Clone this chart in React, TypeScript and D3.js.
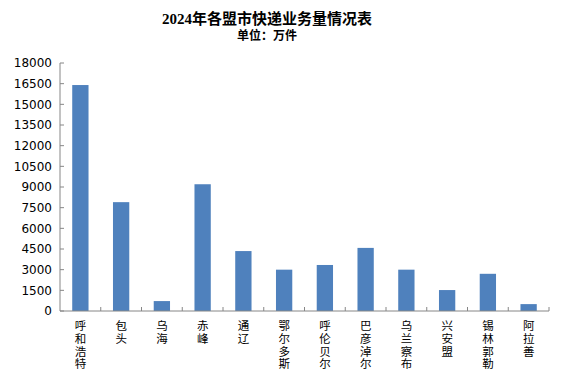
import * as d3 from "d3";

const categories = [
  "呼和浩特",
  "包头",
  "乌海",
  "赤峰",
  "通辽",
  "鄂尔多斯",
  "呼伦贝尔",
  "巴彦淖尔",
  "乌兰察布",
  "兴安盟",
  "锡林郭勒",
  "阿拉善",
];

const volumes = [16400, 7900, 720, 9200, 4350, 3000, 3340, 4580, 3000, 1520, 2700, 500];

const yTicks = [0, 1500, 3000, 4500, 6000, 7500, 9000, 10500, 12000, 13500, 15000, 16500, 18000];

const title = "2024年各盟市快递业务量情况表";
const subtitle = "单位：万件";

const width = 562;
const height = 388;
const marginLeft = 60;
const marginRight = 13;
const marginTop = 63;
const zeroY = 311;

const axisColor = "#868686";
const barColor = "#4F81BD";
const cjk = '"Liberation Serif", "Noto Sans CJK SC", serif';

export default function App() {
  const x = d3
    .scaleBand<string>()
    .domain(categories)
    .range([marginLeft, width - marginRight])
    .paddingInner(0.6)
    .paddingOuter(0.3);

  // boundaries for the category ticks
  const step = x.step();
  const x0 = marginLeft;

  const y = d3.scaleLinear().domain([0, 18000]).range([zeroY, marginTop]);

  return (
    <svg
      width={width}
      height={height}
      viewBox={`0 0 ${width} ${height}`}
      style={{ position: "absolute", left: 0, top: 0, background: "#fff" }}
    >
      <text
        x={267}
        y={24}
        textAnchor="middle"
        fontFamily={cjk}
        fontWeight="bold"
        fontSize={15}
        fill="#000"
      >
        {title}
      </text>
      <text
        x={267}
        y={40}
        textAnchor="middle"
        fontFamily={cjk}
        fontWeight="bold"
        fontSize={12}
        fill="#000"
      >
        {subtitle}
      </text>

      {/* bars */}
      {categories.map((c, i) => (
        <rect
          key={c}
          x={x(c)}
          y={y(volumes[i])}
          width={x.bandwidth()}
          height={zeroY - y(volumes[i])}
          fill={barColor}
        />
      ))}

      {/* y axis */}
      <line x1={marginLeft} x2={marginLeft} y1={y(18000)} y2={zeroY} stroke={axisColor} />
      {yTicks.map((t) => (
        <g key={t}>
          <line x1={marginLeft} x2={marginLeft + 4} y1={y(t)} y2={y(t)} stroke={axisColor} />
          <text
            x={52}
            y={y(t)}
            dy="0.36em"
            textAnchor="end"
            fontFamily='"DejaVu Sans", sans-serif'
            fontSize={12}
            fill="#000"
          >
            {t}
          </text>
        </g>
      ))}

      {/* x axis */}
      <line x1={marginLeft} x2={width - marginRight} y1={zeroY} y2={zeroY} stroke={axisColor} />
      {categories.map((c, i) => (
        <line
          key={"t" + c}
          x1={x0 + step * (i + 1)}
          x2={x0 + step * (i + 1)}
          y1={zeroY}
          y2={zeroY - 4}
          stroke={axisColor}
        />
      ))}
      {categories.map((c) => {
        const cx = (x(c) ?? 0) + x.bandwidth() / 2;
        return (
          <text
            key={"l" + c}
            x={cx}
            y={320}
            style={{ writingMode: "vertical-rl", letterSpacing: "1.2px" }}
            fontFamily='"Noto Sans CJK SC", sans-serif'
            fontSize={11.5}
            fill="#000"
          >
            {c}
          </text>
        );
      })}
    </svg>
  );
}
